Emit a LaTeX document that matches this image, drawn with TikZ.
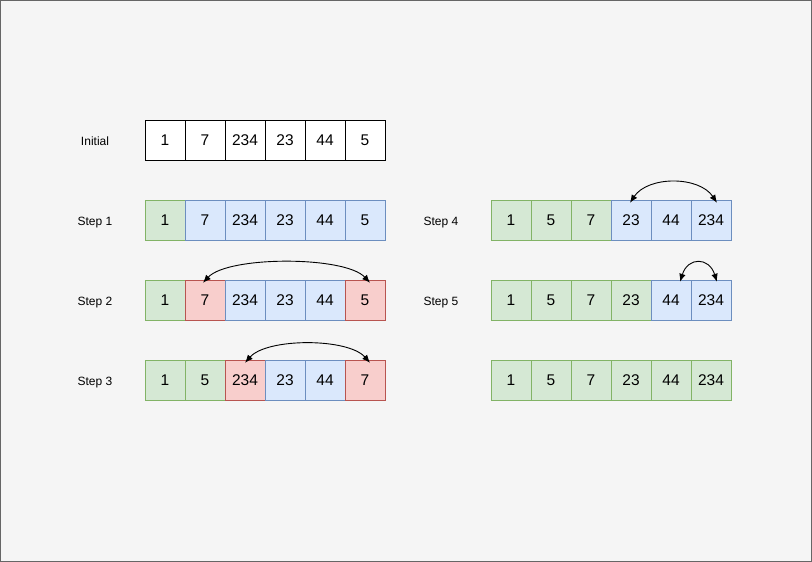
\documentclass[tikz,border=0pt]{standalone}
\usepackage{fontspec}
\setmainfont{Liberation Sans}
\usetikzlibrary{arrows.meta}

\definecolor{fondgris}{HTML}{F5F5F5}
\definecolor{bordgris}{HTML}{666666}
\definecolor{vertfond}{HTML}{D5E8D4}
\definecolor{vertbord}{HTML}{82B366}
\definecolor{bleufond}{HTML}{DAE8FC}
\definecolor{bleubord}{HTML}{6C8EBF}
\definecolor{rougefond}{HTML}{F8CECC}
\definecolor{rougebord}{HTML}{B85450}

\begin{document}
\begin{tikzpicture}[x=1pt, y=-1pt]
\tikzset{case/.style={draw, fill=white, minimum width=40pt, minimum height=40pt, inner sep=0pt, font=\fontsize{15.5}{18}\selectfont},
vert/.style={case, fill=vertfond, draw=vertbord},
bleu/.style={case, fill=bleufond, draw=bleubord},
rouge/.style={case, fill=rougefond, draw=rougebord},
etiq/.style={font=\fontsize{12}{14}\selectfont, text height=8.6pt, text depth=0.6pt},
echange/.style={{Latex[length=8pt,width=6.5pt]}-{Latex[length=8pt,width=6.5pt]}, line width=0.9pt}}
\useasboundingbox (0,0) rectangle (812,562);
\draw[fill=fondgris, draw=bordgris] (0.5,0.5) rectangle (811.5,561.5);
% etiquettes
\node[etiq] (L0) at (95,141) {Initial};
\node[etiq] (L1) at (95,221) {Step 1};
\node[etiq] (L2) at (95,301) {Step 2};
\node[etiq] (L3) at (95,381) {Step 3};
\node[etiq] (L4) at (441,221) {Step 4};
\node[etiq] (L5) at (441,301) {Step 5};
% Initial
\node[case] (I1) at (165,140) {1};
\node[case] (I2) at (205,140) {7};
\node[case] (I3) at (245,140) {234};
\node[case] (I4) at (285,140) {23};
\node[case] (I5) at (325,140) {44};
\node[case] (I6) at (365,140) {5};
% Step 1
\node[vert] (A1) at (165,220) {1};
\node[bleu] (A2) at (205,220) {7};
\node[bleu] (A3) at (245,220) {234};
\node[bleu] (A4) at (285,220) {23};
\node[bleu] (A5) at (325,220) {44};
\node[bleu] (A6) at (365,220) {5};
% Step 2
\node[vert] (B1) at (165,300) {1};
\node[rouge] (B2) at (205,300) {7};
\node[bleu] (B3) at (245,300) {234};
\node[bleu] (B4) at (285,300) {23};
\node[bleu] (B5) at (325,300) {44};
\node[rouge] (B6) at (365,300) {5};
% Step 3
\node[vert] (C1) at (165,380) {1};
\node[vert] (C2) at (205,380) {5};
\node[rouge] (C3) at (245,380) {234};
\node[bleu] (C4) at (285,380) {23};
\node[bleu] (C5) at (325,380) {44};
\node[rouge] (C6) at (365,380) {7};
% Step 4
\node[vert] (D1) at (511,220) {1};
\node[vert] (D2) at (551,220) {5};
\node[vert] (D3) at (591,220) {7};
\node[bleu] (D4) at (631,220) {23};
\node[bleu] (D5) at (671,220) {44};
\node[bleu] (D6) at (711,220) {234};
% Step 5
\node[vert] (E1) at (511,300) {1};
\node[vert] (E2) at (551,300) {5};
\node[vert] (E3) at (591,300) {7};
\node[vert] (E4) at (631,300) {23};
\node[bleu] (E5) at (671,300) {44};
\node[bleu] (E6) at (711,300) {234};
% final
\node[vert] (F1) at (511,380) {1};
\node[vert] (F2) at (551,380) {5};
\node[vert] (F3) at (591,380) {7};
\node[vert] (F4) at (631,380) {23};
\node[vert] (F5) at (671,380) {44};
\node[vert] (F6) at (711,380) {234};
% echanges
\draw[echange] ([xshift=-2pt,yshift=-3pt]B2.north) .. controls +(25,-27) and +(-25,-27) .. ([xshift=5pt,yshift=-3pt]B6.north);
\draw[echange] ([yshift=-3pt]C3.north) .. controls +(22,-25) and +(-22,-25) .. ([xshift=5pt,yshift=-3pt]C6.north);
\draw[echange] ([xshift=-1pt,yshift=-3pt]D4.north) .. controls +(18,-27) and +(-18,-27) .. ([xshift=6pt,yshift=-3pt]D6.north);
\draw[echange] ([xshift=9pt,yshift=-2pt]E5.north) .. controls +(8,-25) and +(-8,-25) .. ([xshift=6pt,yshift=-2pt]E6.north);
\end{tikzpicture}
\end{document}
